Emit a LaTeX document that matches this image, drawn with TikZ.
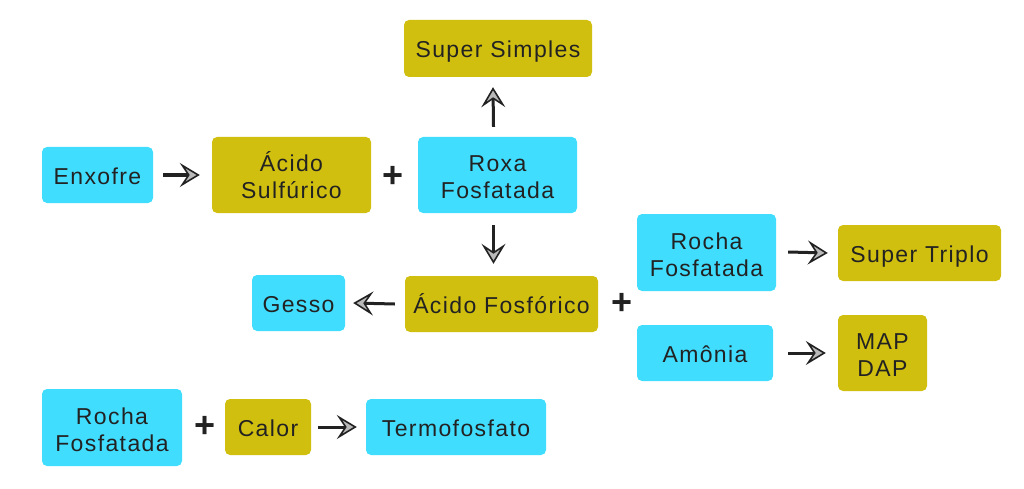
\documentclass[tikz,border=0pt]{standalone}
\usepackage{fontspec}
\setmainfont{Liberation Sans}[LetterSpace=6]
\newfontfamily\plusfont{Liberation Sans}
\usetikzlibrary{arrows.meta}
\definecolor{cyanbox}{HTML}{40DDFF}
\definecolor{olivebox}{HTML}{D1BF10}
\definecolor{txt}{HTML}{222222}
\newcommand\twoline[2]{\vbox{\baselineskip=27pt\lineskiplimit=-20pt\halign{\hfil##\hfil\cr#1\cr#2\cr}}}
\tikzset{
  base/.style={rounded corners=5pt, text=txt, inner sep=0pt,
    font=\fontsize{23}{27}\selectfont, text height=18pt, text depth=0pt},
  two/.style={text height=47pt, text depth=0pt},
  cbox/.style={base, fill=cyanbox},
  obox/.style={base, fill=olivebox},
  arr/.style={line width=3pt, draw=txt, -{Stealth[length=20pt,width=24pt,inset=8pt,fill=gray!55,line width=1.6pt]}},
  plus/.style={text=txt, font=\plusfont\bfseries\fontsize{36}{36}\selectfont, inner sep=0pt}
}
\begin{document}
\begin{tikzpicture}[x=1pt,y=-1pt]
\useasboundingbox (0,0) rectangle (1024,489);
\node[obox, minimum width=188pt, minimum height=57pt] (ss) at (498,48.5) {Super Simples};
\node[cbox, minimum width=111pt, minimum height=56pt] (enx) at (97.5,175) {Enxofre};
\node[obox, two, minimum width=159pt, minimum height=76pt] (as) at (291.5,175) {\twoline{Ácido}{Sulfúrico}};
\node[cbox, two, minimum width=159pt, minimum height=76pt] (rf) at (497.5,175) {\twoline{Roxa}{Fosfatada}};
\node[plus] (p1) at (393,177) {+};
\node[obox, minimum width=193pt, minimum height=56pt] (af) at (501.5,304) {Ácido Fosfórico};
\node[cbox, minimum width=93pt, minimum height=56pt] (ge) at (298.5,303) {Gesso};
\node[plus] (p2) at (622,304) {+};
\node[cbox, two, minimum width=139pt, minimum height=77pt] (rf2) at (706.5,252.5) {\twoline{Rocha}{Fosfatada}};
\node[obox, minimum width=163pt, minimum height=56pt] (st) at (919.5,253) {Super Triplo};
\node[cbox, minimum width=136pt, minimum height=56pt] (am) at (705,353) {Amônia};
\node[obox, two, minimum width=89pt, minimum height=76pt] (md) at (882.5,353) {\twoline{MAP}{DAP}};
\node[cbox, two, minimum width=140pt, minimum height=77pt] (rf3) at (112,427.5) {\twoline{Rocha}{Fosfatada}};
\node[plus] (p3) at (205,427) {+};
\node[obox, minimum width=86pt, minimum height=56pt] (ca) at (268,427) {Calor};
\node[cbox, minimum width=180pt, minimum height=56pt] (tf) at (456,427) {Termofosfato};
\draw[arr] ([xshift=10pt]enx.east) -- ([xshift=-12pt]as.west);
\draw[arr] ([xshift=-4pt,yshift=10pt]rf.north) -- ([xshift=-5pt,yshift=-10pt]ss.south);
\draw[arr] ([xshift=-4pt,yshift=-12pt]rf.south) -- ([xshift=-8pt,yshift=12pt]af.north);
\draw[arr] ([xshift=-10pt]af.west) -- ([xshift=8pt]ge.east);
\draw[arr] ([xshift=12pt,yshift=0.5pt]rf2.east) -- ([xshift=-10pt]st.west);
\draw[arr] ([xshift=15pt]am.east) -- ([xshift=-12pt]md.west);
\draw[arr] ([xshift=7pt]ca.east) -- ([xshift=-9pt]tf.west);
\end{tikzpicture}
\end{document}
